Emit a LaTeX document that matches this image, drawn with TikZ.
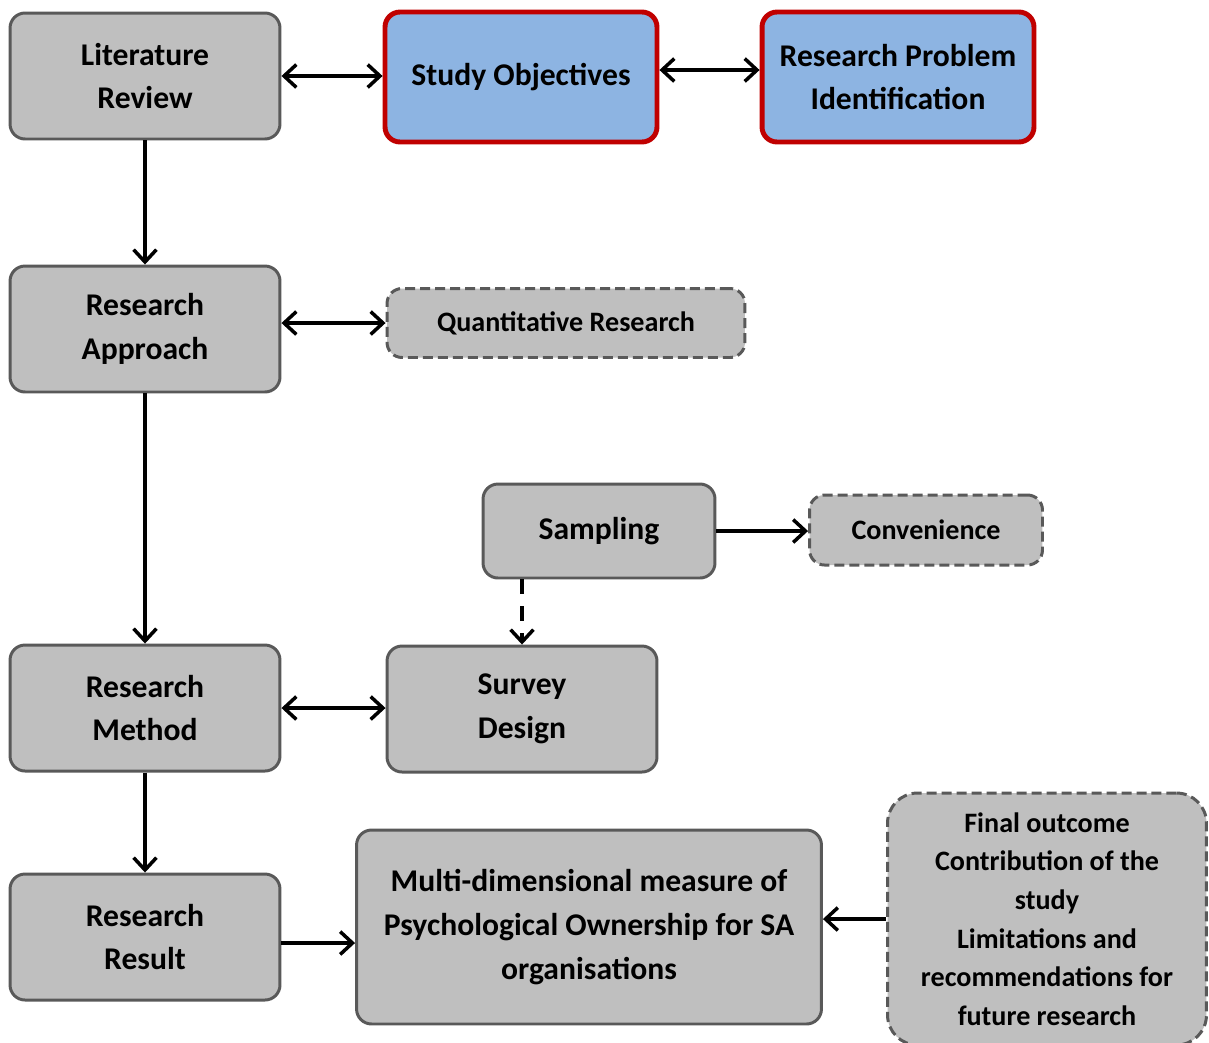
\documentclass[tikz,border=0pt]{standalone}
\usepackage{fontspec}
\setmainfont{Carlito}
\usepackage{tikz}
\usetikzlibrary{positioning, arrows.meta}
\definecolor{flowGray}{HTML}{BFBFBF}
\definecolor{flowEdge}{HTML}{595959}
\definecolor{flowBlue}{HTML}{8DB4E2}
\definecolor{flowRed}{HTML}{C00000}

\begin{document}
\begin{tikzpicture}[
  x=0.02cm, y=-0.02cm,
  every node/.style={font=\bfseries\fontsize{18}{25}\selectfont},
  stage/.style={
    rectangle, rounded corners=0.3cm, draw=flowEdge, line width=1.7pt,
    fill=flowGray, align=center, inner sep=2pt,
    minimum width=5.4cm, minimum height=2.52cm
  },
  focus/.style={
    stage, draw=flowRed, line width=2.8pt, fill=flowBlue,
    minimum width=5.44cm, minimum height=2.6cm
  },
  option/.style={
    stage, dash pattern=on 0.2cm off 0.1cm,
    font=\bfseries\fontsize{16}{22}\selectfont
  },
  link/.style={
    line width=2pt, -{Straight Barb[length=7pt, width=13pt, line width=2pt]}
  },
  duallink/.style={
    line width=2pt,
    {Straight Barb[length=7pt, width=13pt, line width=2pt]}-{Straight Barb[length=7pt, width=13pt, line width=2pt]}
  },
]
\useasboundingbox (0,0) rectangle (1209,1042);

% Top row
\node[stage] (lit) at (145,76) {Literature\\Review};
\node[focus] (obj) at (521,77) {Study Objectives};
\node[focus] (prob) at (898,77) {Research Problem\\Identification};

% Approach
\node[stage] (appr) at (145,329) {Research\\Approach};
\node[option, minimum width=7.16cm, minimum height=1.38cm] (quant) at (566,323) {Quantitative Research};

% Sampling
\node[stage, minimum width=4.64cm, minimum height=1.88cm] (samp) at (599,531) {Sampling};
\node[option, minimum width=4.66cm, minimum height=1.4cm] (conv) at (926,530) {Convenience};

% Method
\node[stage] (meth) at (145,708) {Research\\Method};
\node[stage] (surv) at (522,709) {Survey\\Design};

% Result
\node[stage] (res) at (145,937) {Research\\Result};
\node[stage, minimum width=9.3cm, minimum height=3.88cm] (meas) at (589,927)
  {Multi-dimensional measure of\\Psychological Ownership for SA\\organisations};
\node[option, rounded corners=0.6cm, minimum width=6.38cm, minimum height=5.04cm,
  font=\bfseries\fontsize{16}{22}\selectfont] (final) at (1047,919)
  {Final outcome\\Contribution of the\\study\\Limitations and\\recommendations for\\future research};

% Connectors
\draw[duallink] (lit.east) -- (lit.east -| obj.west);
\draw[duallink] ([yshift=0.14cm]obj.east) -- ([yshift=0.14cm]prob.west);
\draw[link] (lit.south) -- (appr.north);
\draw[duallink] (appr.east |- quant.west) -- (quant.west);
\draw[link] (appr.south) -- (meth.north);
\draw[link] (samp.east) -- (samp.east -| conv.west);
\draw[link, dash pattern=on 0.3cm off 0.24cm] (samp.south -| surv.north) -- (surv.north);
\draw[duallink] (meth.east) -- (meth.east -| surv.west);
\draw[link] (meth.south) -- (res.north);
\draw[link] ([yshift=-0.12cm]res.east) -- ([yshift=-0.12cm]res.east -| meas.west);
\draw[link] (final.west) -- (final.west -| meas.east);

\end{tikzpicture}
\end{document}
